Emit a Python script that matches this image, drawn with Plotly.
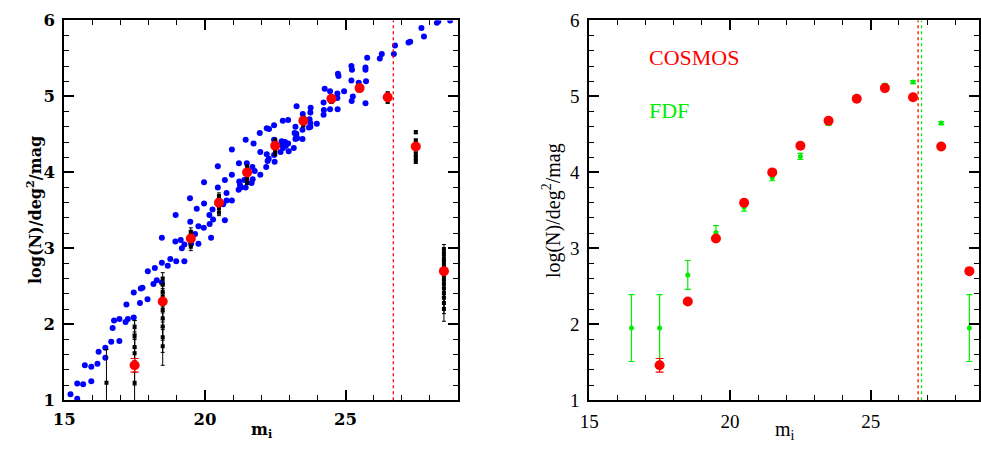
import plotly.graph_objects as go

# ---------------- data ----------------
# other surveys (blue) : magnitude, log N
blue_x = [15.22, 15.46, 15.46, 15.67, 15.73, 15.96, 15.96, 16.18, 16.22, 16.46, 16.46, 16.67, 16.72, 16.77,
          16.96, 16.96, 17.18, 17.21, 17.26, 17.47, 17.47, 17.69, 17.72, 17.78, 17.96, 17.97, 18.17, 18.22,
          18.29, 18.47, 18.47, 18.47, 18.68, 18.77, 18.95, 18.98, 19.14, 19.18, 19.27, 19.27, 19.48, 19.51,
          19.65, 19.77, 19.77, 19.96, 20.17, 20.22, 20.29, 20.71, 18.96, 19.47, 19.71, 19.97, 19.97, 20.16,
          20.27, 20.46, 20.46, 20.50, 20.65, 20.71, 20.77, 20.77, 20.96, 20.96, 20.96, 21.20, 21.22, 21.21,
          21.25, 21.28, 21.40, 21.45, 21.49, 21.45, 21.66, 21.69, 21.70, 21.73, 21.77, 21.95, 21.97, 21.97,
          22.18, 22.20, 22.23, 22.27, 22.20, 22.28, 22.46, 22.46, 22.48, 22.46, 22.69, 22.73, 22.78, 22.85,
          22.88, 22.77, 22.96, 22.96, 22.98, 23.16, 23.19, 23.22, 23.22, 23.26, 23.25, 23.28, 23.47, 23.47,
          23.48, 23.49, 23.70, 23.72, 23.75, 23.75, 23.76, 23.98, 24.22, 24.22, 24.23, 24.26, 24.45, 24.45,
          24.71, 24.71, 24.72, 24.73, 24.75, 24.95, 25.21, 25.23, 25.21, 25.22, 25.26, 25.47, 25.71, 25.71,
          25.73, 25.71, 25.77, 26.22, 26.29, 26.72, 26.76, 27.24, 27.30, 27.70, 27.79, 28.25, 28.30, 28.72,
          23.25, 23.75, 22.74]
blue_y = [1.08, 1.02, 1.22, 1.21, 1.46, 1.44, 1.25, 1.48, 1.64, 1.69, 1.56, 1.77, 1.95, 2.05,
          2.07, 1.78, 2.03, 2.26, 2.07, 2.09, 2.42, 2.28, 2.47, 2.48, 2.33, 2.70, 2.53, 2.74,
          2.58, 3.14, 2.81, 2.55, 2.77, 2.86, 3.09, 2.83, 3.11, 3.00, 3.05, 2.83, 3.35, 3.06,
          3.19, 3.29, 3.06, 3.27, 3.32, 3.14, 3.38, 3.37, 3.44, 3.66, 3.52, 3.87, 3.59, 3.44,
          3.51, 3.80, 4.08, 3.63, 3.58, 3.90, 3.73, 3.63, 3.63, 3.97, 4.30, 3.77, 3.88, 4.12,
          3.83, 3.80, 3.90, 4.43, 4.12, 3.80, 3.86, 4.07, 3.91, 4.38, 4.02, 4.52, 3.97, 4.27,
          4.07, 4.24, 4.15, 4.18, 4.58, 4.57, 4.62, 4.43, 4.14, 4.23, 4.27, 4.41, 4.32, 4.40,
          4.35, 4.68, 4.69, 4.38, 4.28, 4.32, 4.52, 4.60, 4.44, 4.87, 4.51, 4.45, 4.44, 4.56,
          4.77, 4.71, 4.59, 4.70, 4.60, 4.79, 4.85, 4.64, 4.92, 4.76, 4.82, 5.10, 5.07, 4.83,
          5.04, 4.98, 4.83, 5.30, 5.27, 5.07, 5.40, 5.35, 5.21, 4.94, 5.00, 5.18, 5.38, 5.35,
          5.20, 4.91, 5.51, 5.50, 5.56, 5.56, 5.67, 5.71, 5.72, 5.90, 5.79, 5.97, 5.99, 6.00,
          4.48, 4.65, 4.36]

# individual COSMOS fields (black)
black_x = ([16.5] + [17.5] * 6 + [18.5] * 10 + [19.5] * 5 + [20.5] * 5 + [21.5] * 5 + [22.5] * 5
           + [23.5] * 4 + [24.5] * 3 + [25.5] * 2 + [26.5] * 4 + [27.5] * 7 + [28.5] * 14)
black_y = ([1.23]
           + [1.23, 1.50, 1.62, 1.70, 1.84, 1.96]
           + [1.71, 1.83, 1.97, 2.08, 2.19, 2.29, 2.37, 2.43, 2.52, 2.60]
           + [3.02, 3.08, 3.13, 3.18, 3.22]
           + [3.47, 3.53, 3.58, 3.64, 3.69]
           + [3.87, 3.93, 3.98, 4.03, 4.07]
           + [4.25, 4.30, 4.35, 4.39, 4.42]
           + [4.62, 4.66, 4.69, 4.72]
           + [4.93, 4.96, 4.99]
           + [5.08, 5.12]
           + [4.93, 4.97, 5.01, 5.04]
           + [4.14, 4.19, 4.24, 4.30, 4.36, 4.42, 4.53]
           + [2.20, 2.28, 2.35, 2.41, 2.47, 2.53, 2.59, 2.65, 2.70, 2.76, 2.82, 2.87, 2.93, 2.98])
black_err = ([0.44]
             + [0.82, 0.30, 0.25, 0.20, 0.15, 0.09]
             + [0.25, 0.20, 0.18, 0.15, 0.13, 0.12, 0.10, 0.10, 0.10, 0.08]
             + [0.05] * 5
             + [0.04] * 5
             + [0.03] * 5
             + [0.03] * 5
             + [0.02] * 4
             + [0.02] * 3
             + [0.02] * 2
             + [0.02] * 4
             + [0.02] * 7
             + [0.16, 0.14, 0.13, 0.12, 0.11, 0.10, 0.10, 0.09, 0.09, 0.08, 0.08, 0.08, 0.08, 0.07])

# COSMOS mean counts (red)
cosmos_x = [17.5, 18.5, 19.5, 20.5, 21.5, 22.5, 23.5, 24.5, 25.5, 26.5, 27.5, 28.5]
cosmos_y = [1.46, 2.30, 3.13, 3.60, 4.00, 4.35, 4.68, 4.97, 5.11, 4.99, 4.34, 2.70]
cosmos_err = [0.09, 0.0, 0.0, 0.0, 0.0, 0.0, 0.0, 0.0, 0.0, 0.0, 0.0, 0.0]

# FDF counts (green)
fdf_x = [16.5, 17.5, 18.5, 19.5, 20.5, 21.5, 22.5, 23.5, 24.5, 25.5, 26.5, 27.5, 28.5]
fdf_y = [1.95, 1.95, 2.65, 3.21, 3.54, 3.93, 4.21, 4.64, 4.95, 5.15, 5.19, 4.65, 1.95]
fdf_err = [0.44, 0.44, 0.19, 0.09, 0.05, 0.04, 0.04, 0.02, 0.02, 0.02, 0.02, 0.02, 0.44]

# completeness limits
cosmos_limit = 26.7
fdf_limit = 26.8
cosmos_limit_r = 26.68

RED = "#ff0000"
GREEN = "#00ee00"
BLUE = "#0000ff"

fig = go.Figure()

# ---------- left panel ----------
fig.add_trace(go.Scatter(x=blue_x, y=blue_y, mode="markers",
                         marker=dict(color=BLUE, size=6), xaxis="x", yaxis="y", showlegend=False))
fig.add_trace(go.Scatter(x=black_x, y=black_y, mode="markers",
                         marker=dict(color="black", size=4, symbol="square"),
                         error_y=dict(type="data", array=black_err, color="black", thickness=1, width=2),
                         xaxis="x", yaxis="y", showlegend=False))
fig.add_trace(go.Scatter(x=cosmos_x, y=cosmos_y, mode="markers",
                         marker=dict(color=RED, size=10),
                         error_y=dict(type="data", array=cosmos_err, color=RED, thickness=1.2, width=4),
                         xaxis="x", yaxis="y", showlegend=False))

# ---------- right panel ----------
fig.add_trace(go.Scatter(x=fdf_x, y=fdf_y, mode="markers",
                         marker=dict(color=GREEN, size=5),
                         error_y=dict(type="data", array=fdf_err, color=GREEN, thickness=1.2, width=3),
                         xaxis="x2", yaxis="y2", showlegend=False))
fig.add_trace(go.Scatter(x=cosmos_x, y=cosmos_y, mode="markers",
                         marker=dict(color=RED, size=10),
                         error_y=dict(type="data", array=cosmos_err, color=RED, thickness=1.2, width=4),
                         xaxis="x2", yaxis="y2", showlegend=False))

W, H = 981, 458
xl0, xl1 = 54, 453
xr0, xr_end = 586, 985.5
yt, yb = 11, 409

def px_x(p):
    return p / W

def px_y(p):
    return 1 - p / H

axis_common = dict(showline=True, linecolor="black", linewidth=2, mirror="ticks",
                   ticks="inside", ticklen=10, tickwidth=1.5, tickcolor="black",
                   showgrid=False, zeroline=False)

left_font = dict(family="DejaVu Serif", size=16.5, color="black", weight="bold")
right_font = dict(family="Liberation Serif", size=19, color="black")
minor_x = dict(dtick=1, tick0=15, ticks="inside", ticklen=5, tickwidth=1.2, tickcolor="black")
minor_y = dict(dtick=0.2, tick0=1, ticks="inside", ticklen=5, tickwidth=1.2, tickcolor="black")

fig.update_layout(
    width=W, height=H, autosize=False,
    margin=dict(l=0, r=0, t=0, b=0),
    paper_bgcolor="white", plot_bgcolor="white",
    xaxis=dict(domain=[xl0 / W, xl1 / W], range=[15, 29], tickvals=[15, 20, 25], minor=minor_x,
               tickfont=left_font, ticklabelstandoff=3, anchor="y", **axis_common),
    yaxis=dict(domain=[1 - yb / H, 1 - yt / H], range=[1, 6], tickvals=[1, 2, 3, 4, 5, 6], minor=minor_y,
               tickfont=left_font, ticklabelstandoff=4, anchor="x", **axis_common),
    xaxis2=dict(domain=[xr0 / W, 1.0], range=[15, 15 + 14 * (W - xr0) / (xr_end - xr0)],
                tickvals=[15, 20, 25], minor=minor_x,
                tickfont=right_font, ticklabelstandoff=3, anchor="y2", **axis_common),
    yaxis2=dict(domain=[1 - yb / H, 1 - yt / H], range=[1, 6], tickvals=[1, 2, 3, 4, 5, 6], minor=minor_y,
                tickfont=right_font, ticklabelstandoff=4, anchor="x2", **axis_common),
)

# completeness lines
fig.add_shape(type="line", xref="x", yref="y domain", x0=cosmos_limit, x1=cosmos_limit, y0=0, y1=1,
              line=dict(color=RED, width=1.3, dash="dot"))
fig.add_shape(type="line", xref="x2", yref="y2 domain", x0=cosmos_limit_r, x1=cosmos_limit_r, y0=0, y1=1,
              line=dict(color=RED, width=1.3, dash="dot"))
fig.add_shape(type="line", xref="x2", yref="y2 domain", x0=fdf_limit, x1=fdf_limit, y0=0, y1=1,
              line=dict(color=GREEN, width=1.3, dash="dot"))

# axis titles
fig.add_annotation(text="log(N)/deg<sup>2</sup>/mag", xref="paper", yref="paper",
                   x=px_x(24), y=px_y(210), xanchor="center", yanchor="middle",
                   textangle=-90, showarrow=False,
                   font=dict(family="DejaVu Serif", size=16, color="black", weight="bold"))
fig.add_annotation(text="m<sub>i</sub>", xref="paper", yref="paper",
                   x=px_x(254), y=px_y(441), xanchor="center", yanchor="middle", showarrow=False,
                   font=dict(family="DejaVu Serif", size=16, color="black", weight="bold"))
fig.add_annotation(text="log(N)/deg<sup>2</sup>/mag", xref="paper", yref="paper",
                   x=px_x(548), y=px_y(210), xanchor="center", yanchor="middle",
                   textangle=-90, showarrow=False,
                   font=dict(family="Liberation Serif", size=20, color="black"))
fig.add_annotation(text="m<sub>i</sub>", xref="paper", yref="paper",
                   x=px_x(784), y=px_y(441), xanchor="center", yanchor="middle", showarrow=False,
                   font=dict(family="Liberation Serif", size=20, color="black"))

# legend labels
fig.add_annotation(text="COSMOS", xref="x2", yref="y2", x=17.05, y=5.51, xanchor="left",
                   showarrow=False, font=dict(family="Liberation Serif", size=22, color=RED))
fig.add_annotation(text="FDF", xref="x2", yref="y2", x=17.05, y=4.82, xanchor="left",
                   showarrow=False, font=dict(family="Liberation Serif", size=22, color=GREEN))

fig.write_html("out.html")
